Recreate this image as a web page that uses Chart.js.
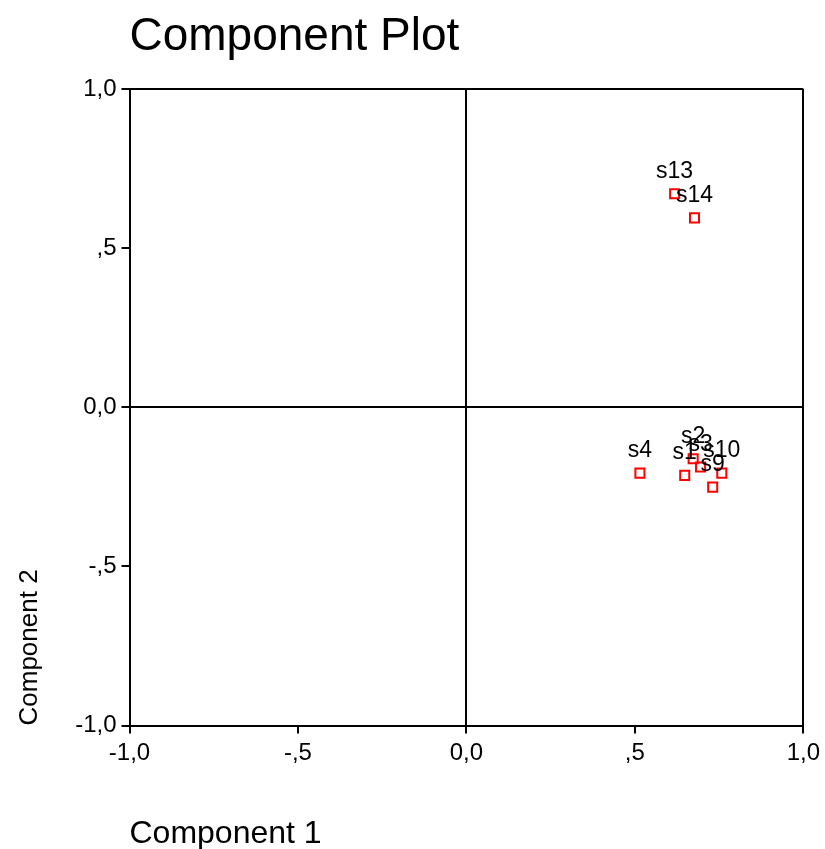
<!DOCTYPE html>
<html>
<head>
<meta charset="utf-8">
<script src="https://cdn.jsdelivr.net/npm/chart.js@4/dist/chart.umd.min.js"></script>
<style>
  html, body { margin: 0; padding: 0; background: #ffffff; }
  #c { display: block; }
</style>
</head>
<body>
<canvas id="c" width="825" height="849"></canvas>
<script>
// ---- data ----
const pointLabels = ['s13', 's14', 's4', 's1', 's2', 's3', 's10', 's9'];
const component1 = [0.618, 0.677, 0.515, 0.648, 0.673, 0.695, 0.758, 0.731];
const component2 = [0.671, 0.595, -0.207, -0.214, -0.162, -0.188, -0.207, -0.251];
const tickLabels = ['-1,0', '-,5', '0,0', ',5', '1,0'];
const frameValues = [-1, 0, 1];

const FONT = "'Liberation Sans', Arial, Helvetica, sans-serif";
Chart.defaults.font.family = FONT;
Chart.defaults.color = '#000000';

const points = pointLabels.map((l, i) => ({ x: component1[i], y: component2[i] }));

const pointLabelPlugin = {
  id: 'pointLabelPlugin',
  afterDatasetsDraw(chart) {
    const ctx = chart.ctx;
    const meta = chart.getDatasetMeta(0);
    ctx.save();
    ctx.font = '23px ' + FONT;
    ctx.fillStyle = '#000000';
    ctx.textAlign = 'center';
    ctx.textBaseline = 'alphabetic';
    meta.data.forEach((el, i) => {
      ctx.fillText(pointLabels[i], el.x, el.y - 16);
    });
    ctx.restore();
  }
};

const gridColor = (c) => (c.tick && frameValues.includes(c.tick.value)) ? '#000000' : 'rgba(0,0,0,0)';

new Chart(document.getElementById('c'), {
  type: 'scatter',
  data: {
    datasets: [{
      data: points,
      pointStyle: 'rect',
      pointRadius: 6.4,
      pointBorderWidth: 2,
      pointBorderColor: '#ff0000',
      pointBackgroundColor: 'rgba(255,255,255,0)',
      showLine: false
    }]
  },
  options: {
    responsive: false,
    animation: false,
    events: [],
    layout: { padding: { left: 0, right: 21, top: 0, bottom: 0 } },
    plugins: {
      legend: { display: false },
      tooltip: { enabled: false },
      title: {
        display: true,
        text: 'Component Plot',
        align: 'start',
        fullSize: false,
        color: '#000000',
        font: { size: 46, weight: 'normal', family: FONT, lineHeight: 1.2 },
        padding: { top: 10, bottom: 23.8 }
      }
    },
    scales: {
      x: {
        type: 'linear',
        min: -1, max: 1,
        afterFit(scale) { scale.height = 123.5; },
        ticks: {
          stepSize: 0.5,
          padding: 5,
          font: { size: 24, family: FONT },
          color: '#000000',
          maxRotation: 0,
          callback: (v, i) => tickLabels[i]
        },
        grid: {
          color: gridColor,
          lineWidth: 2,
          tickColor: '#000000',
          tickLength: 8,
          tickWidth: 2,
          drawOnChartArea: true
        },
        border: { display: true, color: '#000000', width: 2 },
        title: {
          display: true,
          text: 'Component 1',
          align: 'start',
          color: '#000000',
          font: { size: 32, family: FONT, lineHeight: 0.9 },
          padding: { top: 0, bottom: 0 }
        }
      },
      y: {
        type: 'linear',
        min: -1, max: 1,
        afterFit(scale) { scale.width = 129.5; },
        ticks: {
          stepSize: 0.5,
          padding: 5,
          font: { size: 24, family: FONT },
          color: '#000000',
          callback: (v, i) => tickLabels[i]
        },
        grid: {
          color: gridColor,
          lineWidth: 2,
          tickColor: '#000000',
          tickLength: 8,
          tickWidth: 2,
          drawOnChartArea: true
        },
        border: { display: true, color: '#000000', width: 2 },
        title: {
          display: true,
          text: 'Component 2',
          align: 'start',
          color: '#000000',
          font: { size: 26, family: FONT, lineHeight: 1 },
          padding: { top: 17, bottom: 0 }
        }
      }
    }
  },
  plugins: [pointLabelPlugin]
});
</script>
</body>
</html>
